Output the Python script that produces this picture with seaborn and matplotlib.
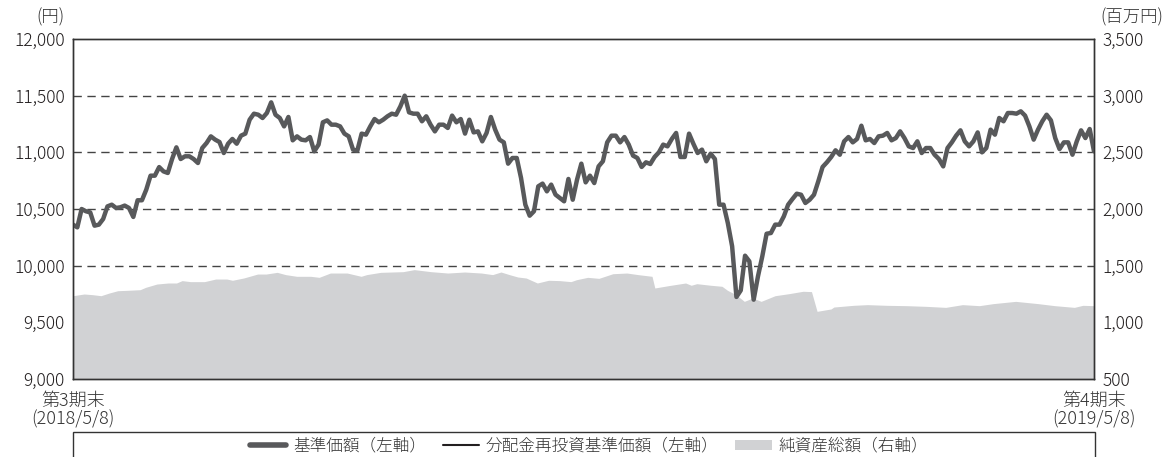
import numpy as np
import pandas as pd
import matplotlib
matplotlib.use("Agg")
import matplotlib.pyplot as plt
import seaborn as sns
from matplotlib.lines import Line2D
from matplotlib.patches import Patch, Rectangle

# 基準価額 (円) left to right, roughly one point per trading day
nav = [
    10362, 10338, 10500, 10480, 10470, 10353, 10362, 10412, 10523, 10538,
    10509, 10515, 10530, 10509, 10430, 10577, 10577, 10670, 10794, 10794,
    10870, 10832, 10818, 10941, 11044, 10941, 10965, 10965, 10941, 10906,
    11038, 11082, 11141, 11112, 11091, 10994, 11076, 11118, 11076, 11147,
    11165, 11288, 11341, 11332, 11303, 11347, 11441, 11332, 11303, 11229,
    11312, 11106, 11141, 11112, 11106, 11135, 11009, 11068, 11265, 11282,
    11244, 11244, 11229, 11165, 11141, 11024, 11015, 11165, 11156, 11229,
    11294, 11265, 11288, 11318, 11341, 11332, 11406, 11500, 11353, 11341,
    11341, 11274, 11318, 11244, 11185, 11244, 11244, 11215, 11324, 11265,
    11294, 11165, 11288, 11176, 11185, 11097, 11171, 11312, 11200, 11112,
    11088, 10900, 10950, 10950, 10774, 10538, 10441, 10480, 10700, 10724,
    10656, 10715, 10627, 10597, 10568, 10765,
    10582, 10759, 10900, 10735, 10794, 10729, 10876, 10921, 11088, 11147,
    11147, 11088, 11135, 11068, 10971, 10950, 10871, 10912, 10897, 10959,
    11000, 11068, 11053, 11118, 11171, 10959, 10959, 11165, 11076, 10994,
    11024, 10921, 10988, 10941, 10538, 10538, 10376, 10171, 9724, 9782,
    10088, 10038, 9700, 9906, 10082, 10282, 10288, 10362, 10362, 10435,
    10538, 10588, 10635, 10626, 10553, 10582, 10626, 10744, 10871,
    10912, 10959, 11018, 10979, 11097, 11135, 11088, 11118, 11235, 11106,
    11118, 11082, 11141, 11147, 11171, 11106, 11126, 11185, 11126, 11053,
    11038, 11097, 10994, 11038, 11038, 10979, 10941, 10876, 11038, 11088,
    11147, 11194, 11097, 11053, 11097, 11176, 11000, 11038, 11200, 11156,
    11303, 11274, 11347, 11347, 11341, 11362, 11324, 11229, 11112, 11200,
    11274, 11332, 11282, 11126, 11029, 11088, 11088, 10979, 11097, 11194,
    11126, 11206, 11009,
]
# 分配金再投資基準価額: no distribution in the period, so it runs under the NAV line
nav_reinvest = nav

# 純資産総額 (百万円), sampled at day offsets from 2018/5/8
aum_day = [
    0, 4, 7, 10, 13, 16, 19, 24, 26, 30, 34, 37, 39, 42, 47, 51, 55, 57, 61,
    66, 69, 73, 76, 80, 85, 88, 92, 98, 103, 105, 110, 118, 122, 128, 134,
    140, 146, 150, 153, 156, 159, 162, 166, 170, 174, 178, 180, 184, 188,
    193, 198, 202, 207, 208, 213, 219, 221, 223, 228, 232, 234, 237, 240,
    243, 246, 251, 256, 261, 264, 266, 271, 272, 279, 284, 291, 298, 305,
    312, 318, 324, 329, 337, 345, 351, 358, 361, 365,
]
aum = [
    1235, 1250, 1244, 1235, 1259, 1279, 1282, 1288, 1309, 1338, 1347, 1347,
    1368, 1359, 1359, 1382, 1382, 1371, 1391, 1426, 1426, 1441, 1421, 1406,
    1406, 1397, 1435, 1435, 1406, 1421, 1441, 1447, 1465, 1447, 1435, 1444,
    1435, 1421, 1444, 1421, 1400, 1391, 1347, 1371, 1368, 1359, 1376, 1397,
    1388, 1429, 1435, 1421, 1406, 1303, 1324, 1347, 1327, 1341, 1327, 1318,
    1282, 1244, 1185, 1215, 1185, 1235, 1253, 1274, 1271, 1097, 1118, 1135,
    1150, 1156, 1150, 1147, 1141, 1132, 1156, 1147, 1165, 1185, 1165, 1147,
    1132, 1150, 1147,
]

left_ticks = [9000, 9500, 10000, 10500, 11000, 11500, 12000]
right_ticks = [500, 1000, 1500, 2000, 2500, 3000, 3500]
x_labels = ["第3期末\n(2018/5/8)", "第4期末\n(2019/5/8)"]
legend_labels = ["基準価額（左軸）", "分配金再投資基準価額（左軸）", "純資産総額（右軸）"]

sns.set_theme(style="white")
plt.rcParams["font.family"] = ["Noto Sans CJK JP", "DejaVu Sans"]
plt.rcParams["font.weight"] = "light"

line_df = pd.DataFrame({
    "day": np.linspace(0, 365, len(nav)),
    "nav": nav,
    "nav_reinvest": nav_reinvest,
})

fig = plt.figure(figsize=(11.64, 4.57), dpi=100)
ax = fig.add_axes([73 / 1164, 1 - 379 / 457, 1021 / 1164, 340 / 457])
ax2 = ax.twinx()

text_color = "#231f20"
ax2.fill_between(aum_day, 0, aum, color="#d1d2d4", linewidth=0)
sns.lineplot(data=line_df, x="day", y="nav_reinvest", ax=ax, color="#231f20", linewidth=1.2)
sns.lineplot(data=line_df, x="day", y="nav", ax=ax, color="#58595b", linewidth=3.2)

ax.set_zorder(ax2.get_zorder() + 1)
ax.patch.set_visible(False)

ax.set_xlim(0, 365)
ax.set_ylim(9000, 12000)
ax2.set_ylim(500, 3500)
ax.set_xlabel("")
ax.set_ylabel("")

for v in [10000, 10500, 11000, 11500]:
    ax.axhline(v, color="#444444", linewidth=1.0, linestyle=(0, (6, 4)), zorder=1)

ax.set_yticks(left_ticks)
ax.set_yticklabels([f"{v:,}" for v in left_ticks])
ax2.set_yticks(right_ticks)
ax2.set_yticklabels([f"{v:,}" for v in right_ticks])
ax.set_xticks([0, 365])
ax.set_xticklabels(x_labels, linespacing=1.05)
ax.tick_params(axis="y", length=0, pad=6, labelsize=12.5, labelcolor=text_color)
ax.tick_params(axis="x", length=0, pad=9, labelsize=13, labelcolor="#333333")
ax2.tick_params(axis="y", length=0, pad=6, labelsize=12.5, labelcolor=text_color)

for a in (ax, ax2):
    for s in a.spines.values():
        s.set_color("#333333")
        s.set_linewidth(1.0)

fig.text(65 / 1164, 1 - 17 / 457, "(円)", ha="right", va="center", fontsize=12.5, color="#333333")
fig.text(1100 / 1164, 1 - 17 / 457, "(百万円)", ha="left", va="center", fontsize=12.5, color="#333333")

# legend box, open at the bottom edge of the image
fig.patches.append(Rectangle((73 / 1164, -0.05), 1022 / 1164, 0.05 + 1 - 432 / 457,
                             transform=fig.transFigure, fill=False,
                             edgecolor="#333333", linewidth=1.0))
handles = [
    Line2D([], [], color="#58595b", linewidth=4),
    Line2D([], [], color="#231f20", linewidth=1.5),
    Patch(facecolor="#d1d2d4", edgecolor="none"),
]
fig.legend(handles, legend_labels, loc="center", bbox_to_anchor=(0.506, 1 - 446 / 457),
           ncol=3, frameon=False, fontsize=12, handlelength=2.2, handleheight=0.55,
           columnspacing=1.0, handletextpad=0.4, labelcolor="#333333")

fig.savefig("out.png", dpi=100)
